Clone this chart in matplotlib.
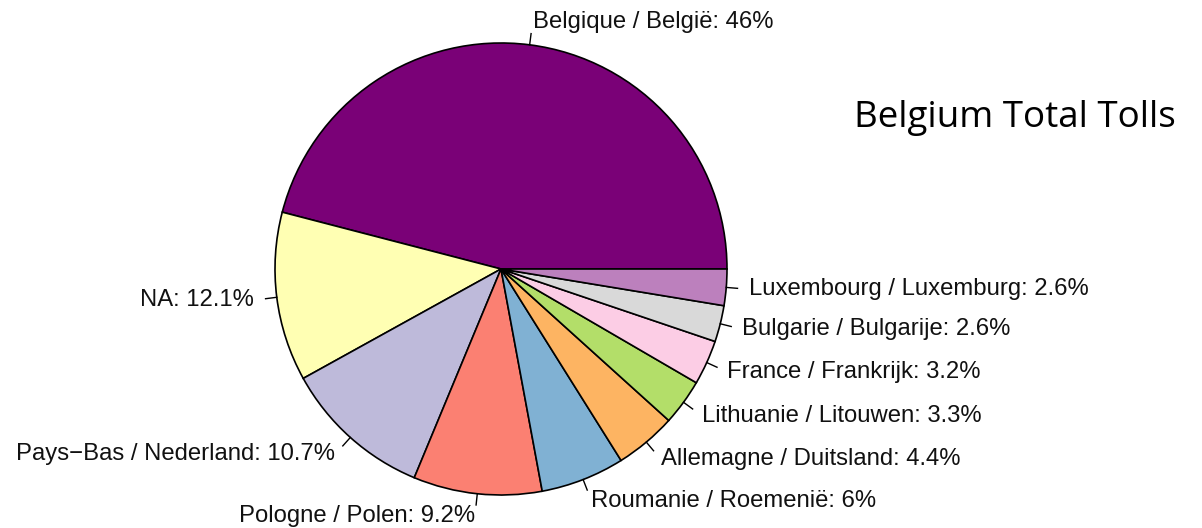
import numpy as np
import matplotlib
matplotlib.use('Agg')
import matplotlib.pyplot as plt

# share of tolls per country (percent)
countries = ['Belgique / België', 'NA', 'Pays\u2212Bas / Nederland', 'Pologne / Polen',
             'Roumanie / Roemenië', 'Allemagne / Duitsland', 'Lithuanie / Litouwen',
             'France / Frankrijk', 'Bulgarie / Bulgarije', 'Luxembourg / Luxemburg']
shares = [46, 12.1, 10.7, 9.2, 6, 4.4, 3.3, 3.2, 2.6, 2.6]
colors = ['#7A0177', '#FFFFB3', '#BEBADA', '#FB8072', '#80B1D3',
          '#FDB462', '#B3DE69', '#FCCDE5', '#D9D9D9', '#BC80BD']

labels = ['%s: %s%%' % (c, ('%g' % s)) for c, s in zip(countries, shares)]

plt.rcParams['font.family'] = ['Liberation Sans', 'DejaVu Sans']

W, H = 1202, 528
fig = plt.figure(figsize=(W / 100, H / 100), dpi=100)
ax = fig.add_axes([0, 0, 1, 1])

# pie centre and radius in pixels
cx, cy, r = 501, 269, 226

wedges, texts = ax.pie(shares, labels=labels, colors=colors, startangle=0,
                       counterclock=True, labeldistance=1.1,
                       wedgeprops=dict(edgecolor='black', linewidth=1.2),
                       textprops=dict(fontsize=17.2, color='#111111'))

# small ticks from the rim to the labels, like R's pie()
for w in wedges:
    mid = np.deg2rad((w.theta1 + w.theta2) / 2)
    ax.plot([np.cos(mid), 1.05 * np.cos(mid)], [np.sin(mid), 1.05 * np.sin(mid)],
            color='black', lw=1)

ax.set_aspect('auto')
ax.set_xlim(-cx / r, (W - cx) / r)
ax.set_ylim(-(H - cy) / r, cy / r)
ax.axis('off')

fig.text(1015 / W, 1 - 118 / H, 'Belgium Total Tolls', ha='center', va='center',
         fontsize=26.5, family='Open Sans')

fig.savefig('out.png', dpi=100)
